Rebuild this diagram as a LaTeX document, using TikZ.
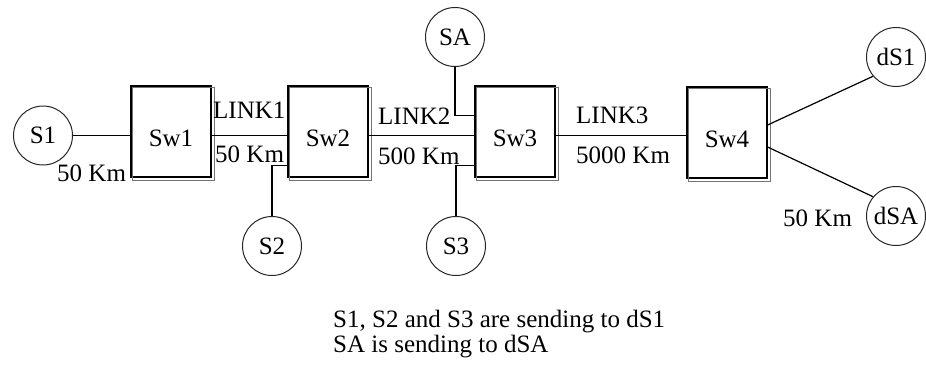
\documentclass[tikz,border=0pt]{standalone}
\usepackage{fontspec}
\setmainfont{Liberation Serif}
\begin{document}
\begin{tikzpicture}[x=1pt,y=-1pt,
  every node/.style={font=\fontsize{25}{26}\selectfont},
  host/.style={circle,draw=black!85,line width=1pt,minimum size=59pt,inner sep=0pt},
  swbox/.style={draw,line width=1.2pt,minimum width=80pt,minimum height=91pt,inner sep=0pt,text height=30pt,text depth=0pt},
  shadowbox/.style={draw=black!55,line width=1.1pt},
  wire/.style={line width=1.2pt},
  lbl/.style={anchor=base west,inner sep=0pt}]
\useasboundingbox (0,0) rectangle (926,364);
% switches
\node[swbox] (sw1) at (171,131.5) {Sw1};
\node[swbox] (sw2) at (328,131.5) {Sw2};
\node[swbox] (sw3) at (515,131.5) {Sw3};
\node[swbox] (sw4) at (727,132.5) {Sw4};
\foreach \b in {sw1,sw2,sw3,sw4}
  \draw[shadowbox] ([shift={(2.5,2.5)}]\b.north west) rectangle ([shift={(2.5,2.5)}]\b.south east);
% hosts
\node[host] (s1) at (43,135.5) {S1};
\node[host] (s2) at (272,246) {S2};
\node[host] (s3) at (456,246) {S3};
\node[host] (sa) at (455,37) {SA};
\node[host] (ds1) at (896,57) {dS1};
\node[host] (dsa) at (896,216) {dSA};
% connectors
\draw[wire] (s1.east) -- (s1.east -| sw1.west);
\draw[wire] (s1.east -| sw1.east) -- (s1.east -| sw2.west);
\draw[wire] (s1.east -| sw2.east) -- (s1.east -| sw3.west);
\draw[wire] (s1.east -| sw3.east) -- (s1.east -| sw4.west);
\draw[wire] (s2.north) |- ([yshift=-34pt]sw2.west);
\draw[wire] (s3.north) |- ([yshift=-34pt]sw3.west);
\draw[wire] (sa.south) |- ([yshift=16pt]sw3.west);
\draw[wire] ([yshift=7.5pt]sw4.east) -- (ds1.220);
\draw[wire] ([yshift=-14.5pt]sw4.east) -- (dsa.140);
% labels
\node[lbl] (l1) at (213,118) {LINK1};
\node[lbl] (d1) at (215,162) {50 Km};
\node[lbl] (d0) at (57,181) {50 Km};
\node[lbl] (l2) at (378,124) {LINK2};
\node[lbl] (d2) at (378,164) {500 Km};
\node[lbl] (l3) at (576,123) {LINK3};
\node[lbl] (d3) at (576,163) {5000 Km};
\node[lbl] (d4) at (783,226) {50 Km};
\node[lbl] (n1) at (333,327) {S1, S2 and S3 are sending to dS1};
\node[lbl] (n2) at (333,352) {SA is sending to dSA};
\end{tikzpicture}
\end{document}
